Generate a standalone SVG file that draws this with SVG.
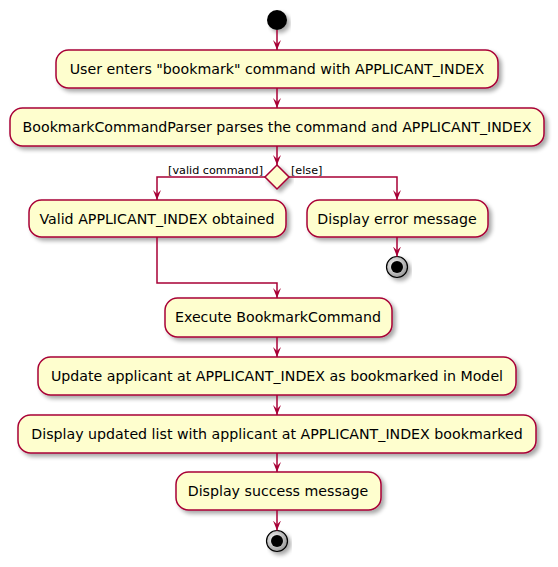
<svg xmlns="http://www.w3.org/2000/svg" width="558" height="567" viewBox="0 0 558 567">
<defs>
<filter id="sh" x="-10%" y="-20%" width="130%" height="160%">
<feGaussianBlur in="SourceAlpha" stdDeviation="2"/>
<feOffset dx="3" dy="3" result="b"/>
<feComponentTransfer><feFuncA type="linear" slope="0.35"/></feComponentTransfer>
<feMerge><feMergeNode/><feMergeNode in="SourceGraphic"/></feMerge>
</filter>
<radialGradient id="endg" cx="40%" cy="40%" r="60%">
<stop offset="0" stop-color="#ffffff"/>
<stop offset="1" stop-color="#9a9a9a"/>
</radialGradient>
<marker id="ah" viewBox="0 0 10 10" refX="10" refY="5" markerWidth="10" markerHeight="10" markerUnits="userSpaceOnUse" orient="auto">
<path d="M0,1 L10,5 L0,9 L4,5 Z" fill="#A80036"/>
</marker>
</defs>
<style>
.box{fill:#FEFECE;stroke:#A80036;stroke-width:1.5;filter:url(#sh)}
.t{font-family:"DejaVu Sans","Liberation Sans",sans-serif;font-size:14.2px;fill:#000;text-anchor:middle}
.lbl{font-family:"DejaVu Sans","Liberation Sans",sans-serif;font-size:11.2px;fill:#000}
.c{fill:none;stroke:#A80036;stroke-width:1.5;marker-end:url(#ah)}
</style>
<rect width="558" height="567" fill="#ffffff"/>
<g id="start"><circle cx="277" cy="20" r="10" fill="#000" filter="url(#sh)"/></g>
<g id="n1"><rect class="box" x="56" y="50" width="442" height="38" rx="12.5"/><text class="t" x="277" y="74">User enters "bookmark" command with APPLICANT_INDEX</text></g>
<g id="n2"><rect class="box" x="10" y="108" width="534" height="38" rx="12.5"/><text class="t" x="277" y="132">BookmarkCommandParser parses the command and APPLICANT_INDEX</text></g>
<g id="decision"><polygon points="277,165 289,177 277,189 265,177" fill="#FEFECE" stroke="#A80036" stroke-width="1.5" filter="url(#sh)"/></g>
<g id="n3"><rect class="box" x="29" y="200" width="257" height="37" rx="12.5"/><text class="t" x="157" y="223.5">Valid APPLICANT_INDEX obtained</text></g>
<g id="n4"><rect class="box" x="307" y="200" width="181" height="37" rx="12.5"/><text class="t" x="397" y="223.5">Display error message</text></g>
<g id="stop1"><circle cx="397" cy="267" r="10.5" fill="url(#endg)" stroke="#000" stroke-width="1.2" filter="url(#sh)"/><circle cx="397" cy="267" r="6" fill="#000"/></g>
<g id="n5"><rect class="box" x="165" y="298" width="227" height="39" rx="12.5"/><text class="t" x="278" y="322">Execute BookmarkCommand</text></g>
<g id="n6"><rect class="box" x="38" y="357" width="478" height="38" rx="12.5"/><text class="t" x="277" y="381">Update applicant at APPLICANT_INDEX as bookmarked in Model</text></g>
<g id="n7"><rect class="box" x="18" y="415" width="518" height="38" rx="12.5"/><text class="t" x="277" y="439">Display updated list with applicant at APPLICANT_INDEX bookmarked</text></g>
<g id="n8"><rect class="box" x="176" y="472" width="205" height="38" rx="12.5"/><text class="t" x="278" y="496">Display success message</text></g>
<g id="stop2"><circle cx="277" cy="541" r="10.5" fill="url(#endg)" stroke="#000" stroke-width="1.2" filter="url(#sh)"/><circle cx="277" cy="541" r="6" fill="#000"/></g>
<g id="connectors">
<path class="c" d="M277,30 L277,50"/>
<path class="c" d="M277,88 L277,108"/>
<path class="c" d="M277,146 L277,165"/>
<path class="c" d="M265,177 L157,177 L157,200"/>
<path class="c" d="M289,177 L397,177 L397,200"/>
<path class="c" d="M397,237 L397,256.5"/>
<path class="c" d="M157,237 L157,283 L277,283 L277,298"/>
<path class="c" d="M277,337 L277,357"/>
<path class="c" d="M277,395 L277,415"/>
<path class="c" d="M277,453 L277,472"/>
<path class="c" d="M277,510 L277,530.5"/>
<text class="lbl" x="263" y="174" text-anchor="end">[valid command]</text>
<text class="lbl" x="291" y="174">[else]</text>
</g>
</svg>
